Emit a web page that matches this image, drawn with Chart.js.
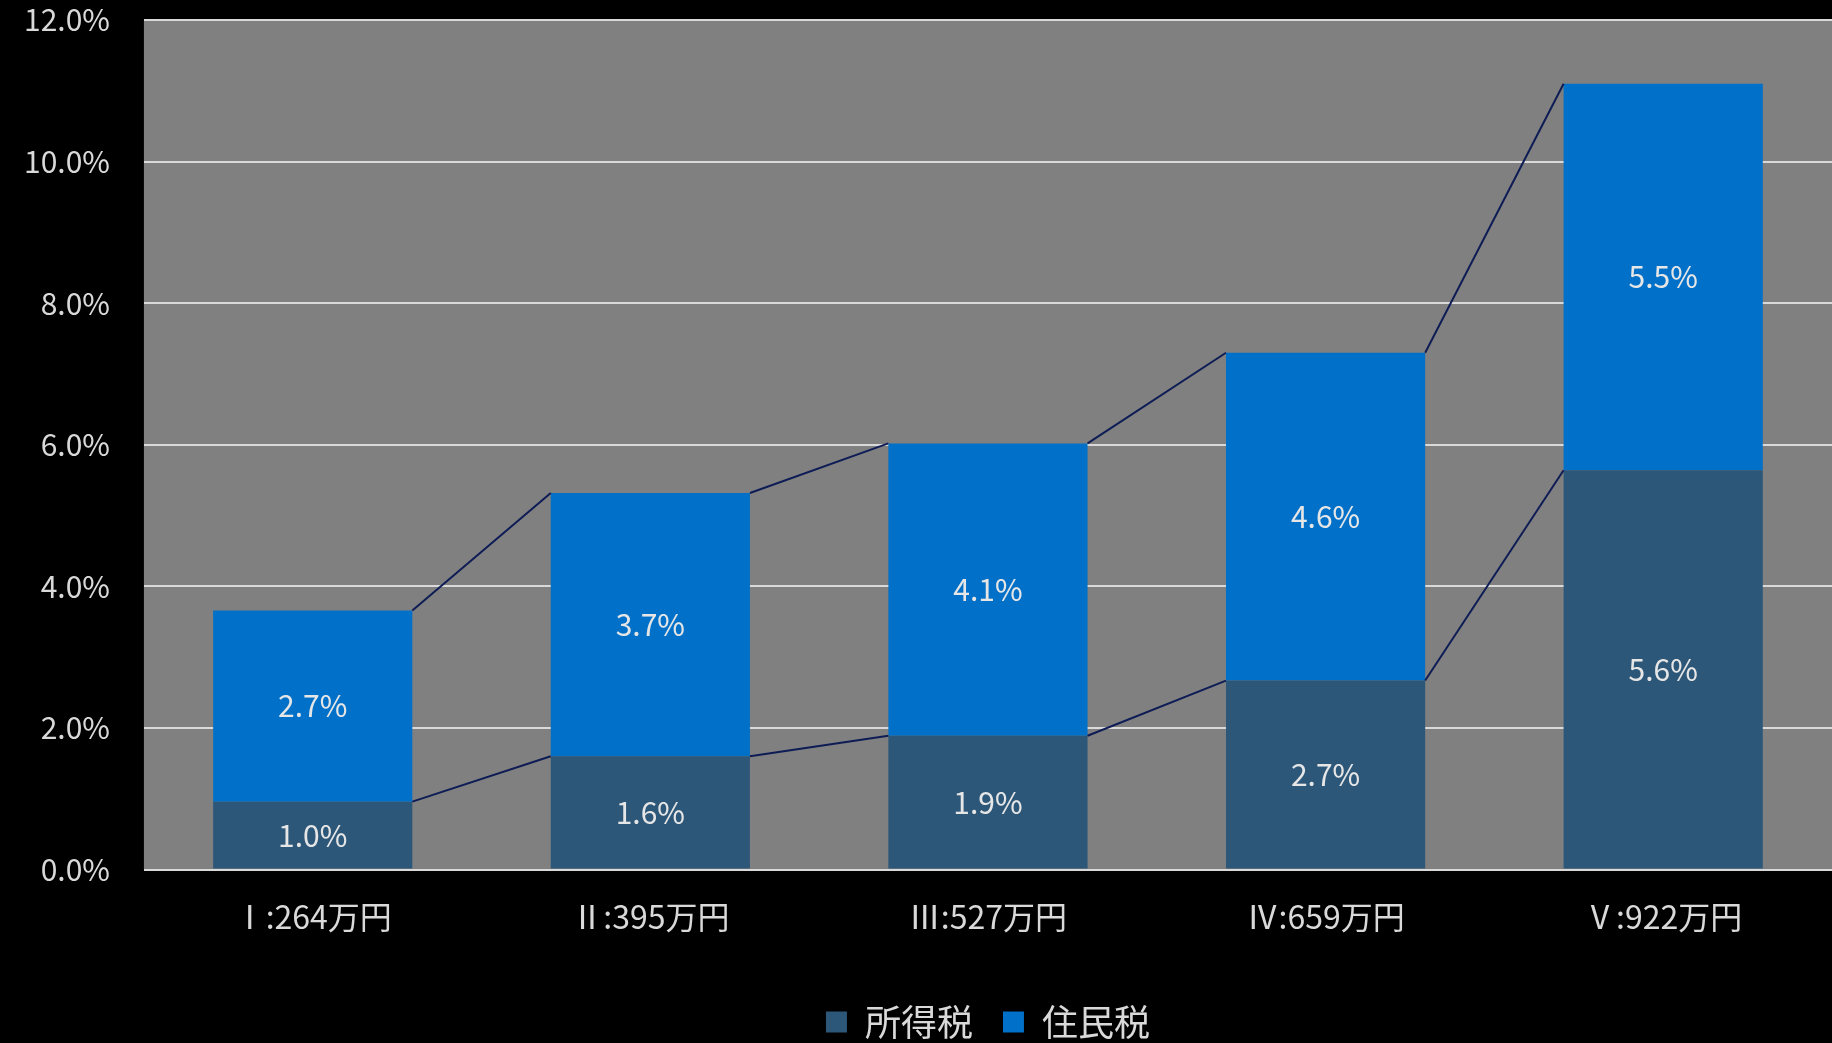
<!DOCTYPE html>
<html>
<head>
<meta charset="utf-8">
<script src="https://cdn.jsdelivr.net/npm/chart.js@4.4.1/dist/chart.umd.min.js"></script>
<style>
  html, body { margin: 0; padding: 0; background: #000; }
  #wrap { width: 1832px; height: 1043px; }
</style>
</head>
<body>
<div id="wrap"><canvas id="c" width="1832" height="1043"></canvas></div>
<script>
const categories = ["Ⅰ:264万円", "Ⅱ:395万円", "Ⅲ:527万円", "Ⅳ:659万円", "Ⅴ:922万円"];
const incomeTax = [0.96, 1.60, 1.89, 2.67, 5.64];
const residentTax = [2.70, 3.72, 4.13, 4.63, 5.46];
const seriesNames = ["所得税", "住民税"];
const yTicks = [0, 2, 4, 6, 8, 10, 12];

const FONT = "'Noto Sans CJK JP', 'Noto Sans', sans-serif";
const TXT = "#d9d9d9";

const bgPlugin = {
  id: 'plotBg',
  beforeDraw(chart) {
    const {ctx, chartArea: a} = chart;
    ctx.save();
    ctx.fillStyle = '#808080';
    ctx.fillRect(a.left, a.top, a.right - a.left, a.bottom - a.top);
    ctx.restore();
  }
};

const seriesLines = {
  id: 'seriesLines',
  afterDatasetsDraw(chart) {
    const ctx = chart.ctx;
    ctx.save();
    ctx.strokeStyle = '#0e1c55';
    ctx.lineWidth = 2;
    chart.data.datasets.forEach((ds, di) => {
      const els = chart.getDatasetMeta(di).data;
      for (let i = 0; i < els.length - 1; i++) {
        const a = els[i], b = els[i + 1];
        ctx.beginPath();
        ctx.moveTo(a.x + a.width / 2, a.y);
        ctx.lineTo(b.x - b.width / 2, b.y);
        ctx.stroke();
      }
    });
    ctx.restore();
  }
};

const valueLabels = {
  id: 'valueLabels',
  afterDatasetsDraw(chart) {
    const ctx = chart.ctx;
    ctx.save();
    ctx.fillStyle = '#e6e6e6';
    ctx.font = "30px " + FONT;
    ctx.textAlign = 'center';
    ctx.textBaseline = 'middle';
    chart.data.datasets.forEach((ds, di) => {
      chart.getDatasetMeta(di).data.forEach((el, i) => {
        const cy = (el.y + el.base) / 2;
        ctx.fillText(ds.data[i].toFixed(1) + '%', el.x, cy);
      });
    });
    ctx.restore();
  }
};

new Chart(document.getElementById('c'), {
  type: 'bar',
  data: {
    labels: categories,
    datasets: [
      { label: seriesNames[0], data: incomeTax, backgroundColor: '#2d5779', borderWidth: 0 },
      { label: seriesNames[1], data: residentTax, backgroundColor: '#0070c8', borderWidth: 0 }
    ]
  },
  options: {
    responsive: false,
    animation: false,
    layout: { padding: { top: 20, right: 0, left: 24, bottom: -7 } },
    datasets: { bar: { categoryPercentage: 1.0, barPercentage: 0.59 } },
    plugins: {
      legend: {
        position: 'bottom',
        fullSize: false,
        labels: {
          color: TXT,
          font: { family: FONT, size: 36 },
          boxWidth: 21,
          boxHeight: 21,
          padding: 30,
          useBorderRadius: false
        }
      },
      tooltip: { enabled: false }
    },
    scales: {
      x: {
        stacked: true,
        grid: { display: false },
        border: { display: false },
        ticks: { color: TXT, font: { family: FONT, size: 32 }, padding: 20 },
        afterFit(axis) { axis.height += 18; }
      },
      y: {
        stacked: true,
        min: 0,
        max: 12,
        afterBuildTicks(axis) { axis.ticks = yTicks.map(v => ({ value: v })); },
        ticks: {
          color: TXT,
          font: { family: FONT, size: 30 },
          padding: 0,
          callback: v => v.toFixed(1) + '%'
        },
        grid: { color: '#d9d9d9', lineWidth: 2, drawTicks: true, tickLength: 34, tickColor: 'rgba(0,0,0,0)' },
        border: { display: false }
      }
    }
  },
  plugins: [bgPlugin, seriesLines, valueLabels]
});
</script>
</body>
</html>
